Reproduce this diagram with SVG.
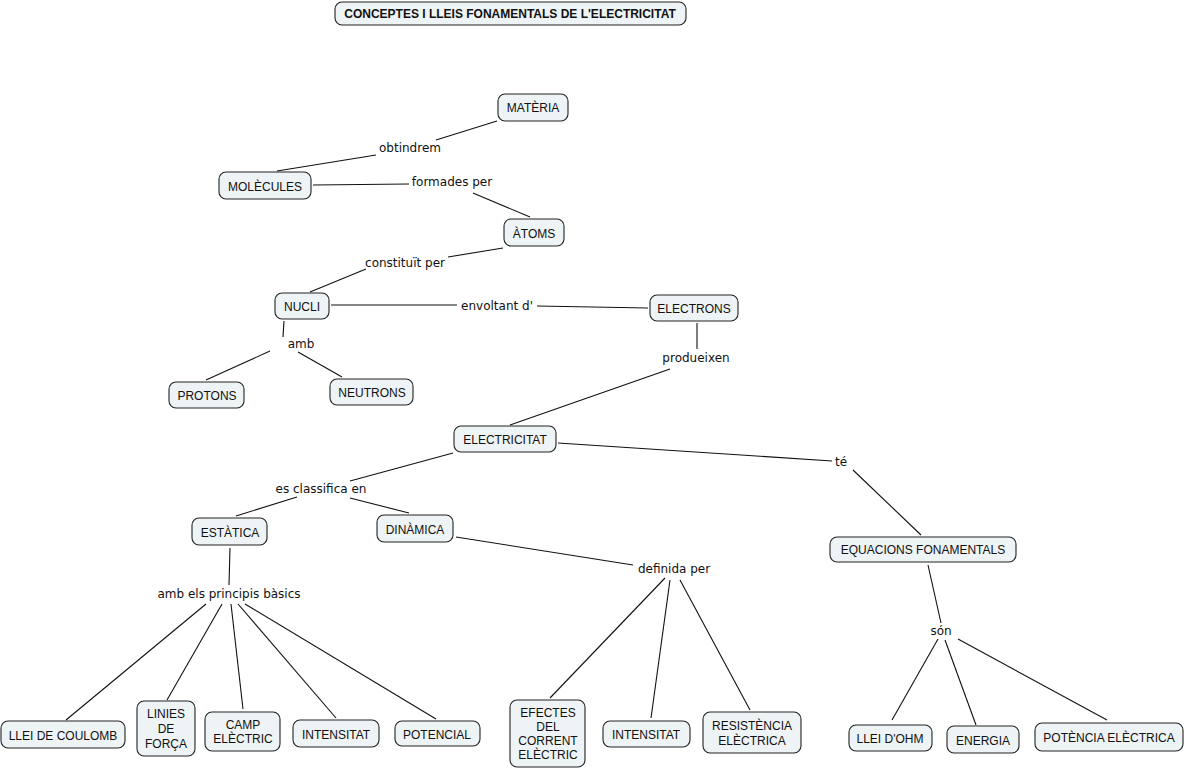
<svg xmlns="http://www.w3.org/2000/svg" width="1186" height="770" viewBox="0 0 1186 770">
<style>
.n rect{fill:#eef3f5;stroke:#222;stroke-width:1.1}
.n text{font-family:"Liberation Sans",Arial,sans-serif;font-size:12px;fill:#111;text-anchor:middle}
.t{font-family:"Liberation Sans",Arial,sans-serif;font-size:12px;font-weight:bold;fill:#111;text-anchor:middle}
.l{font-family:"DejaVu Sans",Verdana,sans-serif;font-size:12px;fill:#111;text-anchor:middle}
#c line{stroke:#111;stroke-width:1.1}
</style>
<rect width="1186" height="770" fill="#fff"/>
<g id="title" class="n"><rect x="335" y="2" width="351" height="23" rx="7"/><text class="t" x="510" y="18">CONCEPTES I LLEIS FONAMENTALS DE L'ELECTRICITAT</text></g>
<g id="c">
<line x1="497" y1="121" x2="436" y2="140"/><line x1="376" y1="155" x2="277" y2="171"/>
<line x1="313" y1="185" x2="409" y2="184"/><line x1="473" y1="193" x2="530" y2="217"/>
<line x1="503" y1="248" x2="448" y2="257"/><line x1="366" y1="269" x2="310" y2="292"/>
<line x1="331" y1="305" x2="457" y2="305"/><line x1="537" y1="306" x2="648" y2="308"/>
<line x1="284" y1="321" x2="283" y2="337"/><line x1="270" y1="351" x2="206" y2="380"/><line x1="298" y1="352" x2="342" y2="377"/>
<line x1="697" y1="323" x2="697" y2="349"/><line x1="670" y1="369" x2="510" y2="425"/>
<line x1="453" y1="453" x2="350" y2="481"/><line x1="297" y1="497" x2="236" y2="516"/><line x1="350" y1="498" x2="409" y2="513"/>
<line x1="558" y1="443" x2="832" y2="461"/><line x1="853" y1="470" x2="921" y2="535"/>
<line x1="230" y1="548" x2="229" y2="585"/>
<line x1="206" y1="604" x2="66" y2="720"/><line x1="222" y1="604" x2="167" y2="700"/><line x1="231" y1="604" x2="243" y2="709"/><line x1="238" y1="604" x2="336" y2="718"/><line x1="245" y1="604" x2="436" y2="719"/>
<line x1="456" y1="537" x2="633" y2="565"/>
<line x1="665" y1="578" x2="550" y2="698"/><line x1="670" y1="580" x2="651" y2="718"/><line x1="680" y1="580" x2="750" y2="710"/>
<line x1="928" y1="565" x2="941" y2="623"/>
<line x1="938" y1="639" x2="892" y2="720"/><line x1="945" y1="640" x2="976" y2="725"/><line x1="958" y1="639" x2="1107" y2="720"/>
<text class="l" x="410" y="152">obtindrem</text>
<text class="l" x="452" y="186">formades per</text>
<text class="l" x="405" y="267">constituït per</text>
<text class="l" x="497" y="310">envoltant d'</text>
<text class="l" x="301" y="348">amb</text>
<text class="l" x="696" y="362">produeixen</text>
<text class="l" x="321" y="493">es classifica en</text>
<text class="l" x="841" y="466">té</text>
<text class="l" x="229" y="598">amb els principis bàsics</text>
<text class="l" x="674" y="573">definida per</text>
<text class="l" x="941" y="635">són</text>
</g>
<g id="materia" class="n"><rect x="498" y="94" width="70" height="27" rx="7"/><text x="533" y="112">MATÈRIA</text></g>
<g id="molecules" class="n"><rect x="219" y="172" width="92" height="27" rx="7"/><text x="265" y="191">MOLÈCULES</text></g>
<g id="atoms" class="n"><rect x="504" y="219" width="60" height="27" rx="7"/><text x="534" y="238">ÀTOMS</text></g>
<g id="nucli" class="n"><rect x="275" y="293" width="54" height="26" rx="7"/><text x="302" y="311">NUCLI</text></g>
<g id="electrons" class="n"><rect x="650" y="295" width="88" height="26" rx="7"/><text x="694" y="313">ELECTRONS</text></g>
<g id="protons" class="n"><rect x="169" y="382" width="75" height="26" rx="7"/><text x="207" y="400">PROTONS</text></g>
<g id="neutrons" class="n"><rect x="330" y="379" width="83" height="26" rx="7"/><text x="372" y="397">NEUTRONS</text></g>
<g id="electricitat" class="n"><rect x="454" y="426" width="102" height="26" rx="7"/><text x="505" y="444">ELECTRICITAT</text></g>
<g id="estatica" class="n"><rect x="192" y="518" width="75" height="27" rx="7"/><text x="230" y="537">ESTÀTICA</text></g>
<g id="dinamica" class="n"><rect x="377" y="515" width="76" height="27" rx="7"/><text x="415" y="534">DINÀMICA</text></g>
<g id="equacions" class="n"><rect x="830" y="537" width="186" height="25" rx="7"/><text x="923" y="554">EQUACIONS FONAMENTALS</text></g>
<g id="coulomb" class="n"><rect x="1" y="721" width="124" height="27" rx="7"/><text x="63" y="740">LLEI DE COULOMB</text></g>
<g id="linies" class="n"><rect x="137" y="701" width="58" height="55" rx="7"/><text x="166" y="718">LINIES</text><text x="166" y="733">DE</text><text x="166" y="748">FORÇA</text></g>
<g id="camp" class="n"><rect x="205" y="712" width="75" height="39" rx="7"/><text x="243" y="729">CAMP</text><text x="243" y="743">ELÈCTRIC</text></g>
<g id="intensitat1" class="n"><rect x="293" y="720" width="86" height="27" rx="7"/><text x="336" y="739">INTENSITAT</text></g>
<g id="potencial" class="n"><rect x="395" y="721" width="85" height="25" rx="7"/><text x="437" y="739">POTENCIAL</text></g>
<g id="efectes" class="n"><rect x="510" y="700" width="75" height="67" rx="7"/><text x="548" y="717">EFECTES</text><text x="548" y="731">DEL</text><text x="548" y="745">CORRENT</text><text x="548" y="759">ELÈCTRIC</text></g>
<g id="intensitat2" class="n"><rect x="603" y="721" width="87" height="26" rx="7"/><text x="646" y="739">INTENSITAT</text></g>
<g id="resistencia" class="n"><rect x="703" y="712" width="98" height="41" rx="7"/><text x="752" y="730">RESISTÈNCIA</text><text x="752" y="745">ELÈCTRICA</text></g>
<g id="ohm" class="n"><rect x="849" y="725" width="83" height="26" rx="7"/><text x="890" y="743">LLEI D'OHM</text></g>
<g id="energia" class="n"><rect x="947" y="726" width="72" height="27" rx="7"/><text x="983" y="745">ENERGIA</text></g>
<g id="potencia" class="n"><rect x="1035" y="723" width="148" height="28" rx="7"/><text x="1109" y="742">POTÈNCIA ELÈCTRICA</text></g>
</svg>
